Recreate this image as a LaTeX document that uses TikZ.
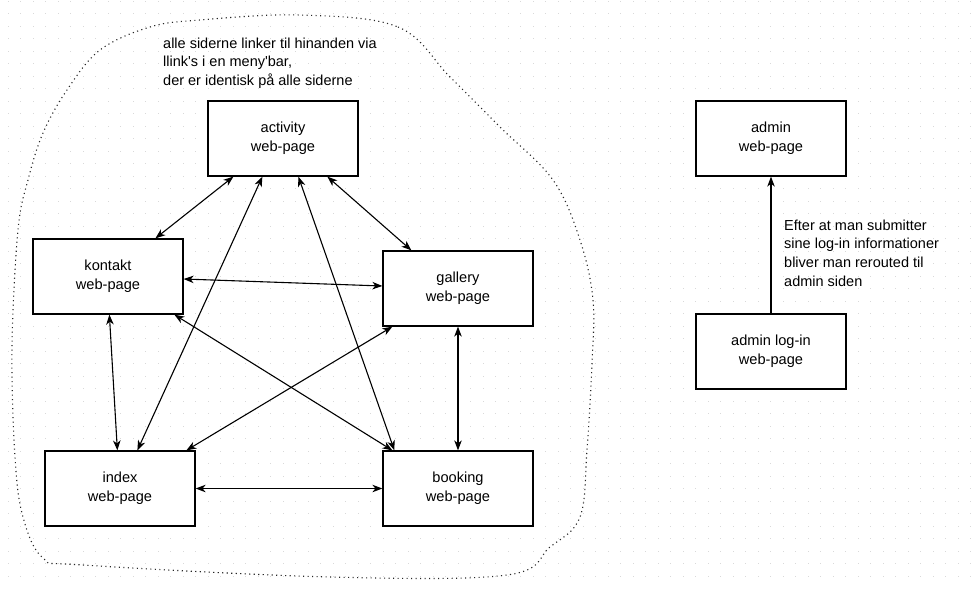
\documentclass[tikz,border=0pt]{standalone}
\usepackage{fontspec}
\setmainfont{Liberation Sans}[Ligatures=TeXOff]
\usetikzlibrary{arrows.meta,calc}
\tikzset{
  page/.style={draw=black, line width=1.25pt, fill=white, minimum width=150pt, minimum height=75pt,
    align=center, inner sep=0pt, font=\fontsize{14.6pt}{18.7pt}\selectfont},
  biarrow/.style={line width=1.1pt, {Stealth[length=10pt,width=7.5pt,inset=3pt]}-{Stealth[length=10pt,width=7.5pt,inset=3pt]}},
  onearrow/.style={line width=1.1pt, -{Stealth[length=10pt,width=7.5pt,inset=3pt]}},
  note/.style={align=left, inner sep=0pt, anchor=west, font=\fontsize{14.5pt}{18.7pt}\selectfont},
  cloud/.style={line width=1.1pt, dash pattern=on 1.1pt off 3.4pt, draw=black!85},
}
\begin{document}
\begin{tikzpicture}[x=1pt,y=-1pt]
\useasboundingbox (0,0) rectangle (978,590);
\fill[white] (0,0) rectangle (978,590);
% background dot grid
\foreach \gx in {0,...,77}{
  \foreach \gy in {0,...,46}{
    \fill[black!15] ({7.5+12.5*\gx},{0.5+12.5*\gy}) rectangle ++(1.3,1.3);
  }
}
% dotted cloud
\draw[cloud] plot[smooth cycle, tension=0.6] coordinates {
  (300,15) (398,27) (450,77) (500,127) (553,180) (580,240) (593,300) (592,363)
  (587,450) (580,517) (550,547) (507,575) (330,577) (83,565) (43,558) (23,517)
  (15,457) (12,347) (18,230) (28,180) (43,133) (67,90) (100,50) (150,27) (200,20)
};
% texts
\node[note] (topnote) at (163,63) {alle siderne linker til hinanden via\\llink's i en meny'bar,\\der er identisk på alle siderne};
\node[note] (adminnote) at (784,253) {Efter at man submitter\\sine log-in informationer\\bliver man rerouted til\\admin siden};
% pages
\node[page] (activity) at (283,138.5) {activity\\web-page};
\node[page] (kontakt) at (108,276.5) {kontakt\\web-page};
\node[page] (gallery) at (458,288.5) {gallery\\web-page};
\node[page] (index) at (120,488.5) {index\\web-page};
\node[page] (booking) at (458,488.5) {booking\\web-page};
\node[page] (admin) at (771,138.5) {admin\\web-page};
\node[page] (adminlogin) at (771,351.5) {admin log-in\\web-page};
% connectors
\draw[biarrow] ($(activity.south west)+(26,0)$) -- ($(kontakt.north west)+(123,0)$);
\draw[biarrow] ($(activity.south west)+(120,0)$) -- ($(gallery.north west)+(29,0)$);
\draw[biarrow] ($(activity.south west)+(55,0)$) -- ($(index.north west)+(93,0)$);
\draw[biarrow] ($(activity.south west)+(91,0)$) -- ($(booking.north west)+(12,0)$);
\draw[biarrow] ($(kontakt.east)+(0,2.5)$) -- ($(gallery.west)+(0,-2.5)$);
\draw[biarrow] ($(kontakt.south west)+(77,0)$) -- ($(index.north west)+(73,0)$);
\draw[biarrow] ($(kontakt.south west)+(142,0)$) -- ($(booking.north west)+(10,0)$);
\draw[biarrow] ($(gallery.south west)+(10,0)$) -- ($(index.north west)+(142,0)$);
\draw[biarrow] (gallery.south) -- (booking.north);
\draw[biarrow] (index.east) -- (booking.west);
\draw[onearrow] (adminlogin.north) -- (admin.south);
\end{tikzpicture}
\end{document}
